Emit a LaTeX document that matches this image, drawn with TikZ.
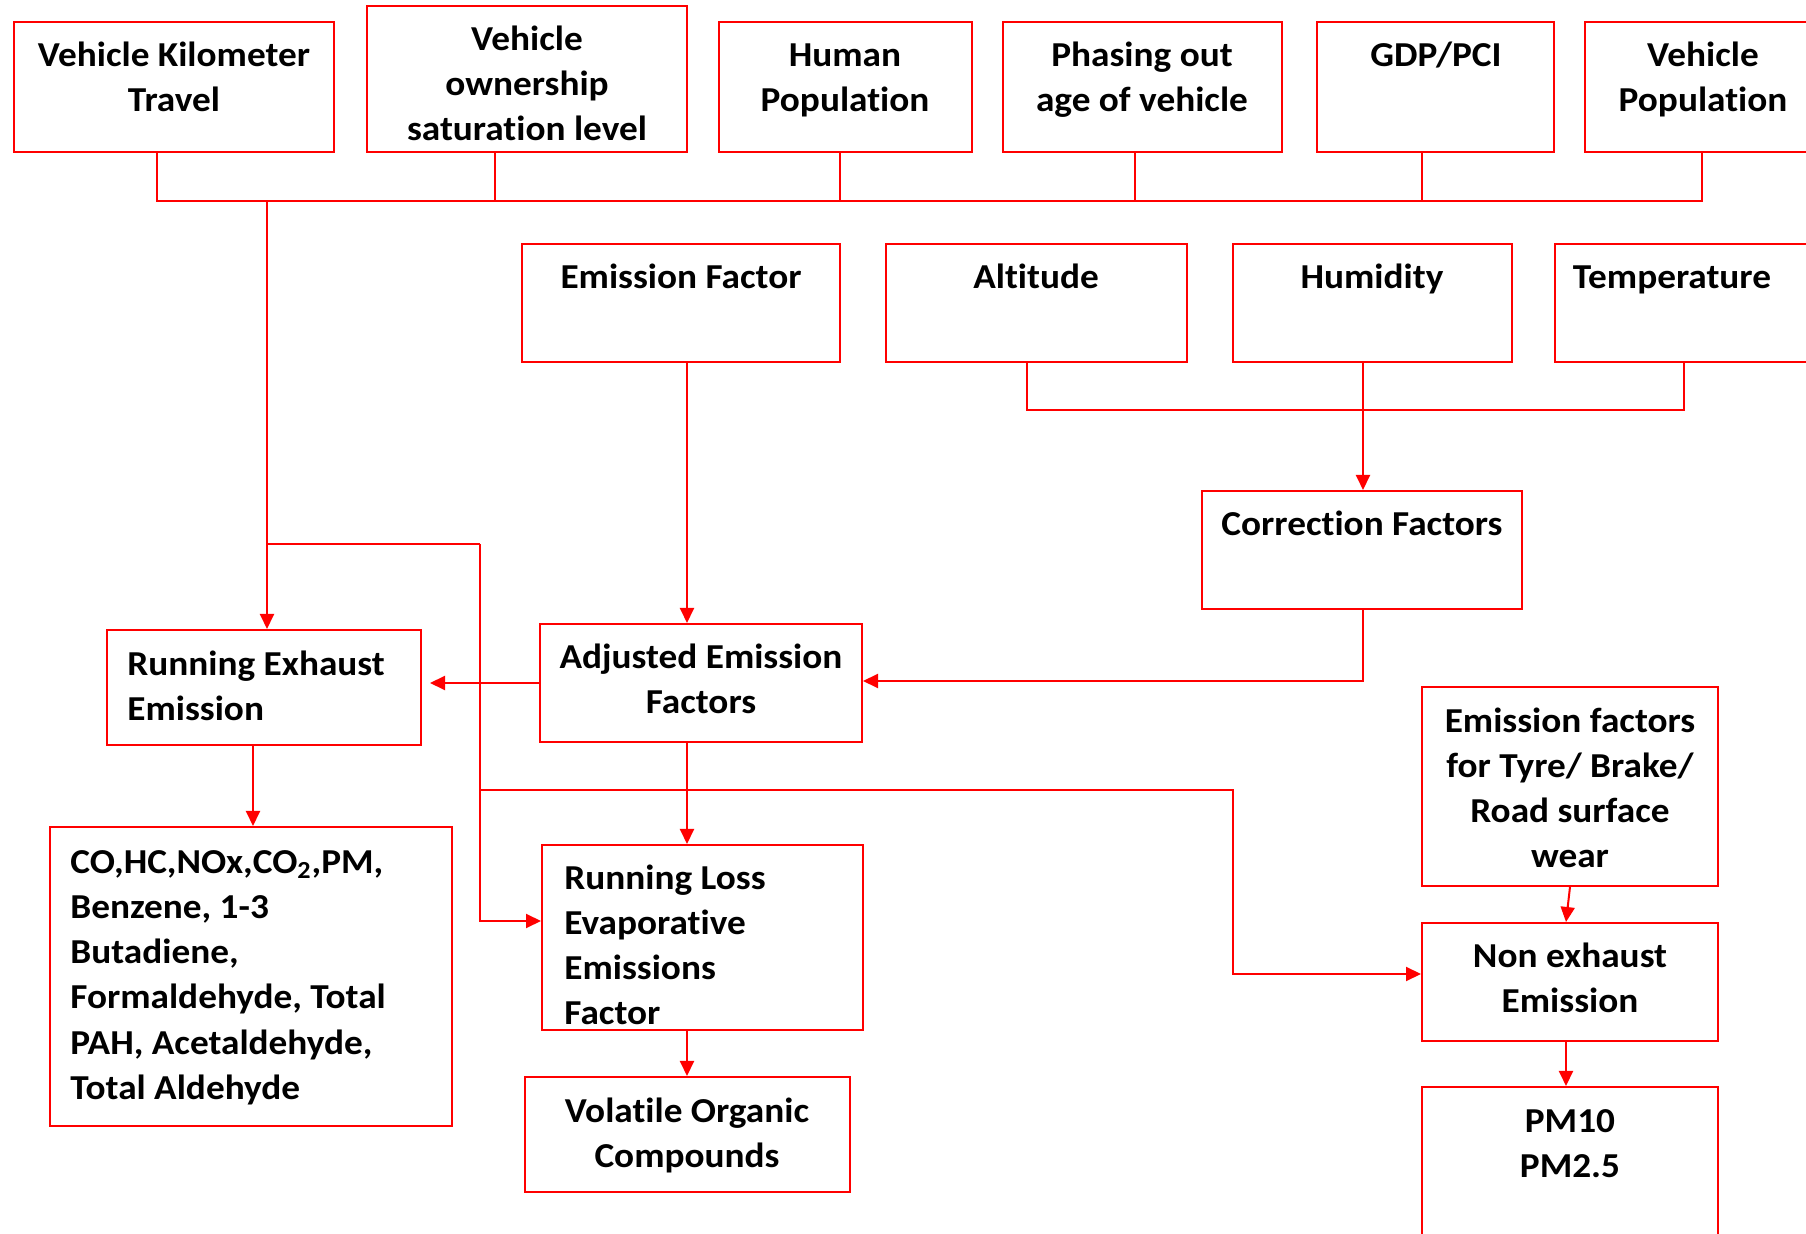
\documentclass[tikz,border=0pt]{standalone}
\usepackage{fontspec}
\setmainfont{Carlito}[FakeStretch=1.065, Ligatures=NoCommon]
\usetikzlibrary{arrows.meta,fit}
\definecolor{linered}{RGB}{255,0,0}
% strut that fixes the height of the first line of every label
\newcommand{\fl}{\rule{0pt}{14pt}}

\begin{document}
\begin{tikzpicture}[x=0.5pt,y=-0.5pt,
  box/.style={draw=linered, line width=1pt, inner sep=0pt, rectangle},
  lbl/.style={inner sep=0pt, font=\fontsize{17.5}{22.6}\selectfont\bfseries, align=center, anchor=north},
  lbll/.style={lbl, align=left, anchor=north west},
  link/.style={draw=linered, line width=1pt},
  arr/.style={link, -{Triangle[length=7.5pt,width=7pt]}}]

\useasboundingbox (0,0) rectangle (1806,1234);
\clip (0,0) rectangle (1806,1234);

% ---- top row: inputs
\node[box, fit={(14,22)(334,152)}]   (vkt)  {};
\node[box, fit={(367,6)(687,152)}]   (own)  {};
\node[box, fit={(719,22)(972,152)}]  (hpop) {};
\node[box, fit={(1003,22)(1282,152)}] (phase) {};
\node[box, fit={(1317,22)(1554,152)}] (gdp) {};
\node[box, fit={(1585,22)(1821,152)}] (vpop) {};

\node[lbl] (vkt-t)   at (174,38)  {\fl Vehicle Kilometer\\Travel};
\node[lbl] (own-t)   at (527,22)  {\fl Vehicle\\ownership\\saturation level};
\node[lbl] (hpop-t)  at (845,38)  {\fl Human\\Population};
\node[lbl] (phase-t) at (1142,38) {\fl Phasing out\\age of vehicle};
\node[lbl] (gdp-t)   at (1436,38) {\fl GDP/PCI};
\node[lbl] (vpop-t)  at (1703,38) {\fl Vehicle\\Population};

% ---- second row
\node[box, fit={(522,244)(840,362)}]   (ef)    {};
\node[box, fit={(886,244)(1187,362)}]  (alt)   {};
\node[box, fit={(1233,244)(1512,362)}] (humid) {};
\node[box, fit={(1555,244)(1812,362)}] (temp)  {};

\node[lbl] (ef-t)    at (681,260)  {\fl Emission Factor};
\node[lbl] (alt-t)   at (1036,260) {\fl Altitude};
\node[lbl] (humid-t) at (1372,260) {\fl Humidity};
\node[lbl] (temp-t)  at (1672,260) {\fl Temperature};

% ---- middle blocks
\node[box, fit={(1202,491)(1522,609)}] (cf)  {};
\node[box, fit={(107,630)(421,745)}]   (ree) {};
\node[box, fit={(540,624)(862,742)}]   (aef) {};
\node[box, fit={(1422,687)(1718,886)}] (tyre) {};

\node[lbl]  (cf-t)   at (1362,507) {\fl Correction Factors};
\node[lbll] (ree-t)  at (127,647)  {\fl Running Exhaust\\Emission};
\node[lbl]  (aef-t)  at (701,640)  {\fl Adjusted Emission\\Factors};
\node[lbl]  (tyre-t) at (1570,704) {\fl Emission factors\\for Tyre/ Brake/\\Road surface\\wear};

% ---- outputs
\node[box, fit={(50,827)(452,1126)}]    (co)  {};
\node[box, fit={(542,845)(863,1030)}]   (rle) {};
\node[box, fit={(525,1077)(850,1192)}]  (voc) {};
\node[box, fit={(1422,923)(1718,1041)}] (ne)  {};
\node[box, fit={(1422,1087)(1718,1250)}] (pm) {};

\node[lbll] (co-t)  at (70,845)   {\fl CO,HC,NOx,CO\textsubscript{2},PM,\\Benzene, 1-3\\Butadiene,\\Formaldehyde, Total\\PAH, Acetaldehyde,\\Total Aldehyde};
\node[lbll] (rle-t) at (564,861)  {\fl Running Loss\\Evaporative\\Emissions\\Factor};
\node[lbl]  (voc-t) at (687,1094) {\fl Volatile Organic\\Compounds};
\node[lbl]  (ne-t)  at (1570,939) {\fl Non exhaust\\Emission};
\node[lbl]  (pm-t)  at (1570,1104) {\fl PM10\\PM2.5};

% ---- junction points
\coordinate (b1) at (157,201);
\coordinate (b2) at (495,201);
\coordinate (b3) at (840,201);
\coordinate (b4) at (1135,201);
\coordinate (b5) at (1422,201);
\coordinate (b6) at (1702,201);
\coordinate (j1) at (267,201);
\coordinate (j2) at (267,544);
\coordinate (j3) at (480,544);
\coordinate (j4) at (480,790);
\coordinate (j5) at (1233,790);
\coordinate (j6) at (480,921);
\coordinate (j7) at (1233,974);
\coordinate (k1) at (687,500);
\coordinate (m1) at (1027,410);
\coordinate (m2) at (1363,410);
\coordinate (m3) at (1684,410);
\coordinate (m4) at (1363,681);
\coordinate (n1) at (253,800);
\coordinate (p2) at (1566,1000);

% ---- top bus
\draw[link] (vkt.south -| b1) -- (b1) -- (b6) -- (vpop.south -| b6);
\draw[link] (own.south -| b2) -- (b2);
\draw[link] (hpop.south -| b3) -- (b3);
\draw[link] (phase.south -| b4) -- (b4);
\draw[link] (gdp.south -| b5) -- (b5);

% ---- activity data branch
\draw[arr] (j1) -- (ree.north -| j1);
\draw[link] (j2) -- (j3);
\draw[arr] (j3) -- (j6) -- (rle.west |- j6);
\draw[arr] (j4) -- (j5) -- (j7) -- (ne.west |- j7);

% ---- emission factors
\draw[arr] (ef.south -| k1) -- (aef.north -| k1);
\draw[arr] (aef.south -| k1) -- (rle.north -| k1);
\draw[arr] (rle.south -| k1) -- (voc.north -| k1);
\draw[arr, shorten >=4pt] (aef.west) -- (ree.east |- aef.west);
\draw[arr] (ree.south -| n1) -- (co.north -| n1);

% ---- correction factors
\draw[link] (alt.south -| m1) -- (m1) -- (m3) -- (temp.south -| m3);
\draw[arr] (humid.south -| m2) -- (cf.north -| m2);
\draw[arr] (cf.south -| m2) -- (m4) -- (aef.east |- m4);

% ---- non-exhaust chain
\draw[arr] (tyre.south) -- (ne.north -| p2);
\draw[arr] (ne.south -| p2) -- (pm.north -| p2);
\end{tikzpicture}
\end{document}
